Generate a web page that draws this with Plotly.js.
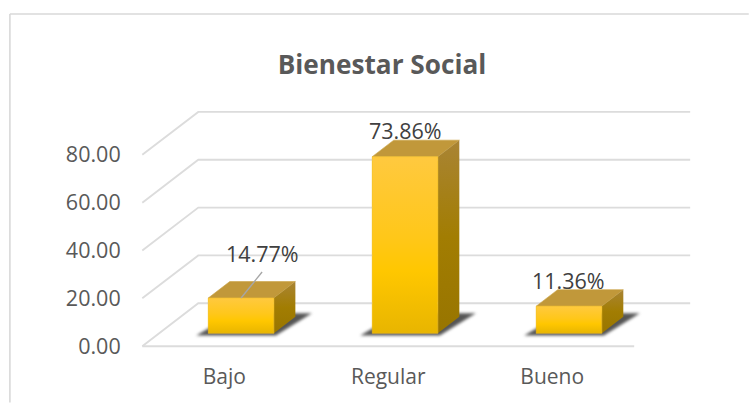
<!DOCTYPE html>
<html>
<head>
<meta charset="utf-8">
<script src="https://cdn.plot.ly/plotly-3.0.1.min.js"></script>
<style>html,body{margin:0;padding:0;background:#fff;overflow:hidden}#chart{width:749px;height:403px}</style>
</head>
<body>
<div id="chart"></div>
<script>
// Data
const categories = ["Bajo", "Regular", "Bueno"];
const values = [14.77, 73.86, 11.36];
const valueLabels = ["14.77%", "73.86%", "11.36%"];
const yTicks = [0, 20, 40, 60, 80];

// Pseudo-3D projection, in axis units
const W = 749, H = 403;
const PX_PER_CAT = 164, PX_PER_VAL = 2.395;
const ZERO_LEFT_PX = 142.4, ZERO_BOTTOM_PX = 346.6;
const DX = 56 / PX_PER_CAT, DY = 43 / PX_PER_VAL;
const D_FRONT = 0.30, D_BACK = 0.684, HALF = 0.2;
const xRange = [-0.52, 2.5 + DX + 0.005], yRange = [-6.6, 100];
const px = v => ZERO_LEFT_PX + (v + 0.5) * PX_PER_CAT;
const py = v => ZERO_BOTTOM_PX - v * PX_PER_VAL;
const xu = p => p / PX_PER_CAT, yu = p => p / PX_PER_VAL;

const traces = [];
const line = (xs, ys, color, width) => traces.push({type: 'scatter', mode: 'lines', x: xs, y: ys, hoverinfo: 'skip', showlegend: false, line: {color, width}});
const poly = (xs, ys, extra) => traces.push(Object.assign({type: 'scatter', mode: 'lines', x: xs.concat(xs[0]), y: ys.concat(ys[0]), fill: 'toself', hoverinfo: 'skip', showlegend: false, line: {width: 0, color: 'rgba(0,0,0,0)'}}, extra));

// Real bars (front faces, shaded over below)
const barTrace = {type: 'bar', x: categories.map((c, i) => i + D_FRONT * DX), y: values, base: D_FRONT * DY, width: 2 * HALF,
  marker: {color: '#ffc700'}, hovertext: categories, hoverinfo: 'text+y', showlegend: false};

// Walls and floor
const GRID = '#dcdcdc', GW = 1.9;
yTicks.forEach(t => {
  if (t === 0) {
    line([-0.5, 2.5], [0, 0], GRID, GW);
    line([-0.5, -0.5 + DX, 2.5 + DX], [0, DY, DY], GRID, GW);
  } else {
    line([-0.5, -0.5 + DX, 2.5 + DX], [t, t + DY, t + DY], GRID, GW);
  }
});

// Shadows on the floor
const shadowStart = traces.length + 1;
values.forEach((v, i) => {
  const l = i - HALF + D_FRONT * DX, r = i + HALF + D_FRONT * DX, y0 = D_FRONT * DY;
  poly([l - xu(12), r + xu(2), r + xu(38), r + xu(18), l + xu(26)],
       [y0 - yu(2.2), y0 - yu(2.2), y0 + yu(20), y0 + yu(20), y0 + yu(20)], {fillcolor: 'rgba(55,55,55,0.85)'});
});
const shadowEnd = traces.length + 1;

// Bar faces
values.forEach((v, i) => {
  const l = i - HALF + D_FRONT * DX, r = i + HALF + D_FRONT * DX, y0 = D_FRONT * DY, y1 = y0 + v;
  const sx = (D_BACK - D_FRONT) * DX, sy = (D_BACK - D_FRONT) * DY;
  poly([l, r, r + sx, l + sx], [y1, y1, y1 + sy, y1 + sy], {fillcolor: '#c1983a', line: {width: 0.6, color: '#c9a244'}});
  poly([r, r + sx, r + sx, r], [y0, y0 + sy, y1 + sy, y1], {
    fillcolor: '#a27d10',
    fillgradient: {type: 'vertical', colorscale: [[0, '#987500'], [0.5, '#a27d02'], [1, '#a98434']]}
  });
  poly([l, r, r, l], [y0, y0, y1, y1], {
    fillcolor: '#ffc700',
    line: {width: 0.6, color: '#f2c02a'},
    fillgradient: {type: 'vertical', colorscale: [[0, '#e8b500'], [0.35, '#ffc700'], [0.55, '#ffc71a'], [1, '#ffc93f']]}
  });
});

// Leader line of the first label
line([D_FRONT * DX, D_FRONT * DX + xu(21)], [values[0] + D_FRONT * DY, values[0] + D_FRONT * DY + yu(26)], '#a6a6a6', 1.4);

const labelDx = [0.232, 1.104, 2.098];
const labelDy = [24.1, 16.3, 16.2];
const annotations = values.map((v, i) => ({
  x: labelDx[i], y: v + labelDy[i], xref: 'x', yref: 'y', text: valueLabels[i], showarrow: false,
  font: {family: 'Open Sans, sans-serif', size: 21.5, color: '#404040'}
}));

const frame = {type: 'line', xref: 'paper', yref: 'paper', line: {color: '#d9d9d9', width: 1.6}, layer: 'below'};
const l = px(xRange[0]), r = px(xRange[1]), t = py(yRange[1]), b = py(yRange[0]);
const fx = p => (p - l) / (r - l), fy = p => (b - p) / (b - t);

const layout = {
  width: W, height: H,
  margin: {l: l, r: W - r, t: t, b: H - b, pad: 0},
  paper_bgcolor: '#ffffff', plot_bgcolor: 'rgba(0,0,0,0)',
  showlegend: false, barmode: 'overlay',
  title: {text: '<b>Bienestar Social</b>', font: {family: 'Open Sans, sans-serif', size: 26.2, color: '#595959'},
    x: 382 / W, xanchor: 'center', y: 1 - 65 / H, yanchor: 'middle'},
  xaxis: {range: xRange, tickmode: 'array', tickvals: [0, 1, 2], ticktext: categories, showgrid: false, zeroline: false, showline: false,
    ticks: '', tickfont: {family: 'Open Sans, sans-serif', size: 21, color: '#595959'}},
  yaxis: {range: yRange, tickmode: 'array', tickvals: yTicks, tickformat: '.2f', showgrid: false, zeroline: false, showline: false,
    ticks: 'outside', ticklen: 13, tickcolor: 'rgba(0,0,0,0)', tickfont: {family: 'Open Sans, sans-serif', size: 21.5, color: '#595959'}},
  annotations: annotations,
  shapes: [
    Object.assign({}, frame, {x0: fx(10), x1: fx(10), y0: fy(14), y1: fy(403)}),
    Object.assign({}, frame, {x0: fx(10), x1: fx(749), y0: fy(14), y1: fy(14)})
  ]
};

Plotly.newPlot('chart', [barTrace].concat(traces), layout, {displayModeBar: false, staticPlot: true}).then(gd => {
  // Soften the floor shadows
  gd.querySelectorAll('.scatterlayer .trace').forEach((g, i) => {
    if (i + 1 >= shadowStart && i + 1 < shadowEnd) g.style.filter = 'blur(1.6px)';
  });
});
</script>
</body>
</html>
